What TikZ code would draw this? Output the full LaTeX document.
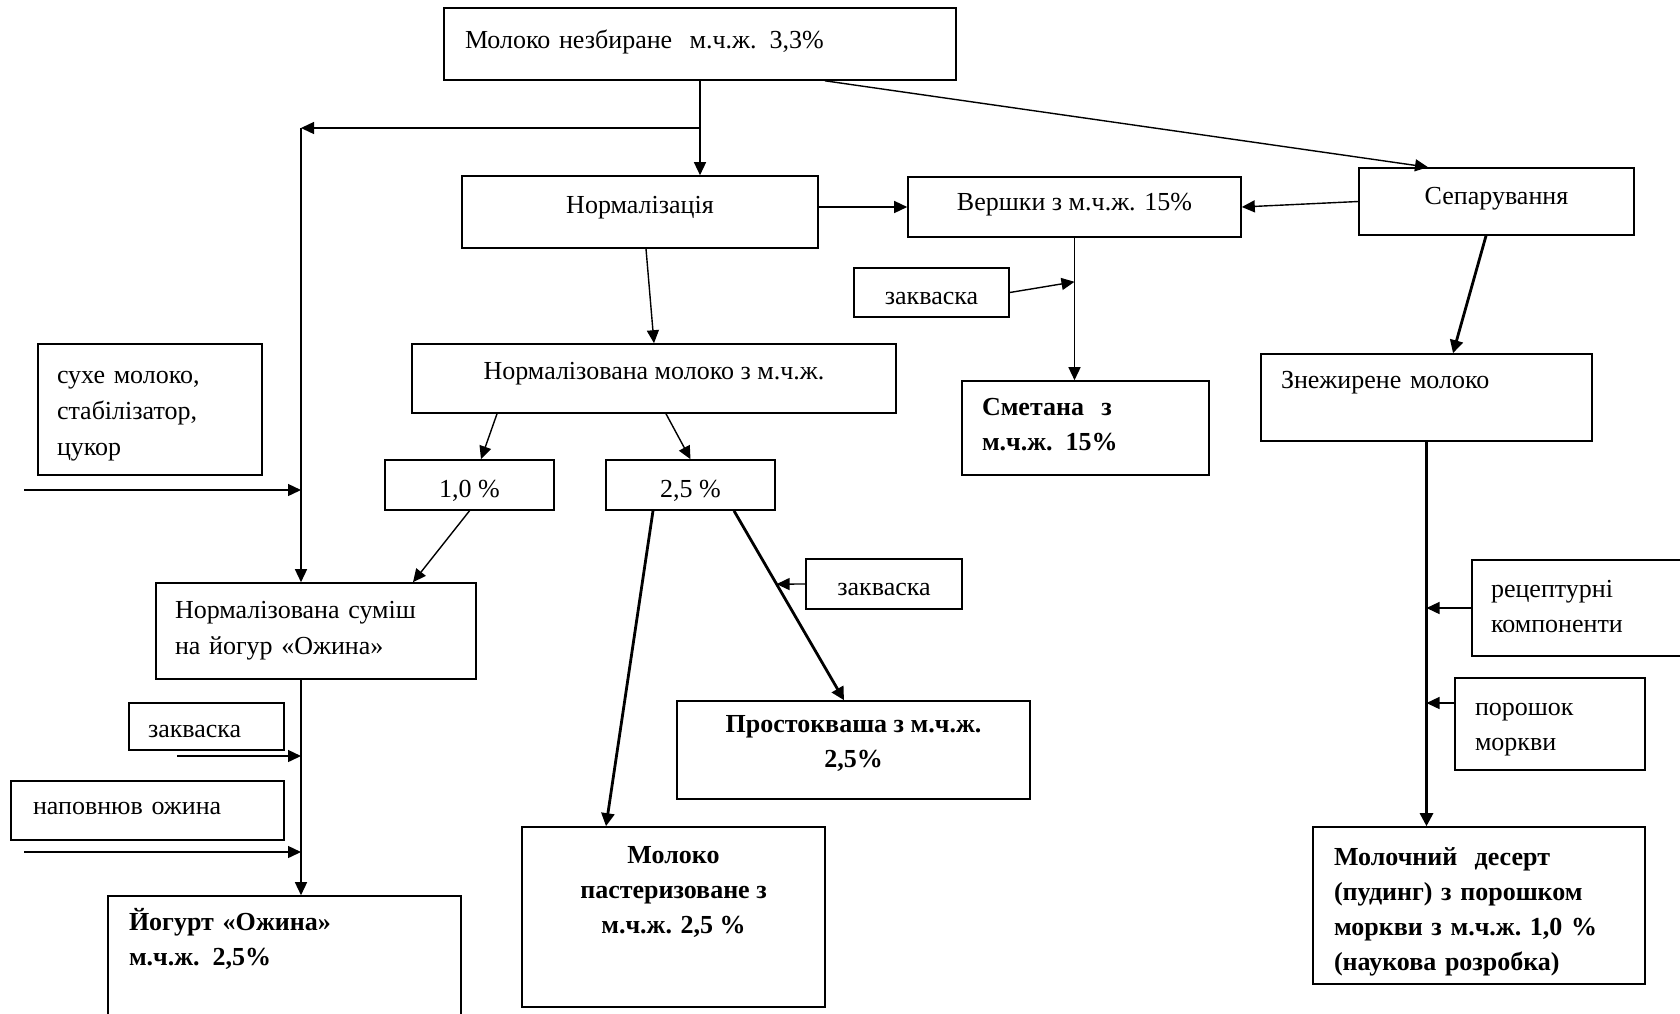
\documentclass[tikz,border=0pt]{standalone}
\usepackage{fontspec}
\setmainfont{Liberation Serif}
\usetikzlibrary{calc,arrows.meta}

\begin{document}
\begin{tikzpicture}[x=0.5pt,y=-0.5pt,
  bx/.style 2 args={draw,line width=0.8pt,inner sep=0pt,align=center,minimum width=#1,minimum height=#2,
  font=\fontsize{13}{17.5}\selectfont},
  lb/.style 2 args={align=left,inner xsep=#1,text width=#2},
  bf/.style={font=\fontsize{13}{17.5}\selectfont\bfseries},
  tv/.style 2 args={text height=#1,text depth=#2},
  ar/.style={-{Triangle[length=6.5pt,width=6pt]},line width=0.7pt},
  tar/.style={-{Triangle[length=6.5pt,width=6.5pt]},line width=1.4pt}]
\useasboundingbox (0,0) rectangle (1680,1013);
\node[bx={256pt}{36pt},lb={10.5pt}{235pt},tv={4pt}{0pt}] (milk) at (700,44) {Молоко незбиране~ м.ч.ж. 3,3\%};
\node[bx={178pt}{36pt},tv={1pt}{0pt}] (norm) at (640,212) {Нормалізація};\node[bx={166.5pt}{30pt},tv={3.6pt}{0pt}] (cream) at (1074.5,207) {Вершки з м.ч.ж. 15\%};\node[bx={137.5pt}{33.5pt},tv={2.5pt}{0pt}] (sep) at (1496.5,201.5) {Сепарування};
\node[bx={77.5pt}{24.5pt},tv={11.5pt}{0pt}] (zk1) at (931.5,292.5) {закваска};\node[bx={242pt}{34.5pt},tv={1pt}{0pt}] (nmilk) at (654,378.5) {Нормалізована молоко з м.ч.ж.};
\node[bx={112pt}{65.5pt},lb={9.5pt}{93pt},tv={0pt}{26.4pt},font=\fontsize{13}{18.2}\selectfont] (dry) at (150,409.5) {сухе молоко,\\стабілізатор,\\цукор};
\node[bx={123.5pt}{47pt},lb={10pt}{103.5pt},bf,tv={0pt}{12.7pt}] (sour) at (1085.5,428) {Сметана~ з\\м.ч.ж. 15\%};
\node[bx={165.5pt}{43.5pt},lb={10pt}{145.5pt},tv={0pt}{9pt}] (skim) at (1426.5,397.5) {Знежирене молоко};
\node[bx={84.5pt}{25pt},tv={12.5pt}{0pt}] (p10) at (469.5,485) {1,0 \%};\node[bx={84.5pt}{25pt},tv={12.5pt}{0pt}] (p25) at (690.5,485) {2,5 \%};
\node[bx={160pt}{48pt},lb={9.5pt}{141pt},tv={0pt}{12.2pt},font=\fontsize{13}{18}\selectfont] (mix) at (316,631) {Нормалізована суміш\\на йогур «Ожина»};
\node[bx={77.5pt}{23.5pt},lb={9.5pt}{58.5pt},tv={11.3pt}{0pt}] (zk2) at (206.5,726.5) {закваска};\node[bx={136.5pt}{29.5pt},lb={11pt}{114.5pt},tv={4.4pt}{0pt}] (fill) at (147.5,810.5) {наповнюв ожина};
\node[bx={176.5pt}{67pt},lb={10.5pt}{155.5pt},bf,tv={0pt}{33pt}] (yog) at (284.5,963) {Йогурт «Ожина»\\м.ч.ж. 2,5\%};
\node[bx={78pt}{25pt},tv={11.3pt}{0pt}] (zk3) at (884,584) {закваска};\node[bx={176.5pt}{49pt},bf,tv={17.4pt}{0pt}] (prost) at (853.5,750) {Простокваша з м.ч.ж.\\2,5\%};
\node[bx={151.5pt}{90pt},bf,tv={16pt}{0pt}] (past) at (673.5,917) {Молоко\\пастеризоване з\\м.ч.ж. 2,5 \%};
\node[bx={111.5pt}{48pt},lb={9.5pt}{92.5pt},tv={0pt}{11pt}] (recp) at (1583.5,608) {рецептурні\\компоненти};\node[bx={95pt}{46pt},lb={10pt}{75pt},tv={0pt}{8.7pt}] (carr) at (1550,724) {порошок\\моркви};
\node[bx={166pt}{78.5pt},lb={10.5pt}{145pt},bf,tv={0pt}{40.2pt}] (dess) at (1479,905.5) {Молочний~ десерт\\(пудинг)~з~порошком\\моркви~з~м.ч.ж.~1,0~\%\\(наукова~розробка)};
\coordinate (j1) at (700,128);\coordinate (j2) at (301,128);\coordinate (din) at (24,490);\coordinate (zin) at (177,756);\coordinate (fin) at (24,852);
\coordinate (j3) at ($(cream.south)+(0,44)$);\coordinate (j4) at ($(carr.west)+(0,-21)$);
\draw[ar] (milk.south) -- (milk.south |- norm.north);\draw[ar] (j1) -- (j2);\draw[ar] (j2) -- (j2 |- mix.north);
\draw[ar] ($(milk.south)+(125,0)$) -- ($(sep.north)+(-68.5,0)$);
\draw[ar] (norm.east |- cream.west) -- (cream.west);\draw[ar] (sep.west) -- (cream.east);
\draw[ar] ($(norm.south)+(6,0)$) -- (nmilk.north);\draw[ar] (cream.south) -- (cream.south |- sour.north);\draw[ar] (zk1.east) -- (j3);
\draw[tar] ($(sep.south)+(-10.5,0)$) -- ($(skim.north)+(26.5,0)$);\draw[tar] (skim.south) -- (skim.south |- dess.north);
\draw[ar] (recp.west) -- (recp.west -| skim.south);\draw[ar] (j4) -- (j4 -| skim.south);
\draw[ar] ($(nmilk.south)+(-157,0)$) -- ($(p10.north)+(11.5,0)$);\draw[ar] ($(nmilk.south)+(12,0)$) -- (p25.north);
\draw[ar] (p10.south) -- ($(mix.north)+(97,0)$);
\draw[tar] ($(p25.south)+(-37.5,0)$) -- ($(past.north)+(-67.5,0)$);\draw[tar] ($(p25.south)+(43.5,0)$) -- coordinate[pos=0.387] (j5) ($(prost.north)+(-9.5,0)$);
\draw[ar] (zk3.west) -- (j5);
\draw[ar] (din) -- (din -| j2);\draw[ar] (mix.south -| j2) -- (yog.north -| j2);\draw[ar] (zin) -- (zin -| j2);\draw[ar] (fin) -- (fin -| j2);
\end{tikzpicture}
\end{document}
